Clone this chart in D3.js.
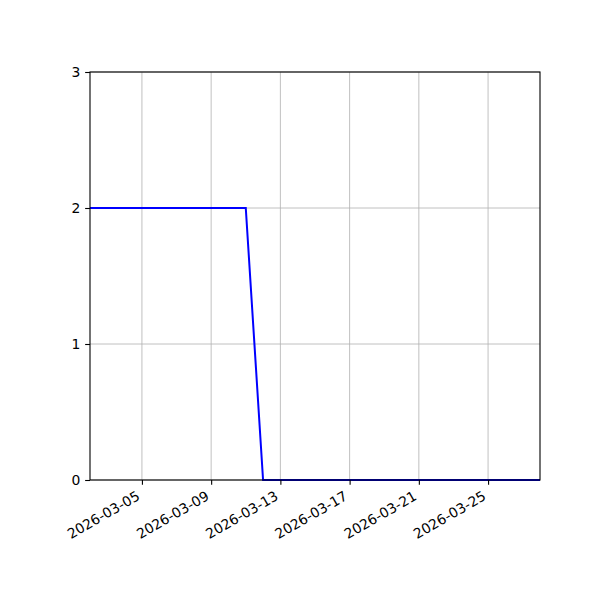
<!DOCTYPE html>
<html>
<head>
<meta charset="utf-8">
<script src="https://cdn.jsdelivr.net/npm/d3@7"></script>
<style>
  body { margin: 0; background: #fff; }
  text { font-family: "DejaVu Sans", sans-serif; }
</style>
</head>
<body>
<script>
// Daily values
const dates = [
  '2026-03-02', '2026-03-03', '2026-03-04', '2026-03-05', '2026-03-06',
  '2026-03-07', '2026-03-08', '2026-03-09', '2026-03-10', '2026-03-11',
  '2026-03-12', '2026-03-13', '2026-03-14', '2026-03-15', '2026-03-16',
  '2026-03-17', '2026-03-18', '2026-03-19', '2026-03-20', '2026-03-21',
  '2026-03-22', '2026-03-23', '2026-03-24', '2026-03-25', '2026-03-26',
  '2026-03-27', '2026-03-28'
];
const values = [2, 2, 2, 2, 2, 2, 2, 2, 2, 2,
                0, 0, 0, 0, 0, 0, 0, 0, 0, 0, 0, 0, 0, 0, 0, 0, 0];
const xTicks = ['2026-03-05', '2026-03-09', '2026-03-13', '2026-03-17', '2026-03-21', '2026-03-25'];
const yTicks = [0, 1, 2, 3];

const width = 600;
const height = 600;
const margin = { top: 72, right: 60, bottom: 120, left: 90 };
const innerWidth = width - margin.left - margin.right;
const innerHeight = height - margin.top - margin.bottom;
const fontSize = 13.9;
const tick = 4.86;

const parse = d3.utcParse('%Y-%m-%d');
const fmt = d3.utcFormat('%Y-%m-%d');
const data = dates.map((d, i) => ({ date: parse(d), value: values[i] }));

const svg = d3.select('body')
  .append('svg')
  .attr('width', width)
  .attr('height', height);

const g = svg.append('g')
  .attr('transform', `translate(${margin.left},${margin.top})`);

const xScale = d3.scaleUtc()
  .domain(d3.extent(data, d => d.date))
  .range([0, innerWidth]);

const yScale = d3.scaleLinear()
  .domain([0, 3])
  .range([innerHeight, 0]);

// Grid
g.append('g')
  .selectAll('line')
  .data(xTicks.map(parse))
  .enter()
  .append('line')
  .attr('x1', d => xScale(d))
  .attr('x2', d => xScale(d))
  .attr('y1', 0)
  .attr('y2', innerHeight)
  .attr('stroke', '#b0b0b0')
  .attr('stroke-width', 0.8);

g.append('g')
  .selectAll('line')
  .data(yTicks)
  .enter()
  .append('line')
  .attr('x1', 0)
  .attr('x2', innerWidth)
  .attr('y1', d => yScale(d))
  .attr('y2', d => yScale(d))
  .attr('stroke', '#b0b0b0')
  .attr('stroke-width', 0.8);

// Line
const line = d3.line()
  .x(d => xScale(d.date))
  .y(d => yScale(d.value));

g.append('path')
  .datum(data)
  .attr('fill', 'none')
  .attr('stroke', '#0000ff')
  .attr('stroke-width', 2)
  .attr('d', line);

// Axes
const xAxis = d3.axisBottom(xScale)
  .tickValues(xTicks.map(parse))
  .tickFormat(fmt)
  .tickSize(tick)
  .tickPadding(tick);

const yAxis = d3.axisLeft(yScale)
  .tickValues(yTicks)
  .tickFormat(d3.format('d'))
  .tickSize(tick)
  .tickPadding(tick);

const gx = g.append('g')
  .attr('transform', `translate(0,${innerHeight})`)
  .call(xAxis);

// rotated labels, right end under the tick (like autofmt_xdate)
gx.selectAll('.tick text')
  .attr('font-size', fontSize)
  .attr('fill', '#000')
  .attr('text-anchor', 'end')
  .attr('dy', null)
  .attr('x', 0)
  .attr('y', 0)
  .attr('transform', `translate(-1.6,${2 * tick + 9.2}) rotate(-30)`);

const gy = g.append('g')
  .call(yAxis);

gy.selectAll('text')
  .attr('font-size', fontSize)
  .attr('fill', '#000');

[gx, gy].forEach(a => {
  a.select('.domain').remove();
  a.selectAll('.tick line').attr('stroke', '#000').attr('stroke-width', 1.1);
  a.attr('font-family', '"DejaVu Sans", sans-serif');
});

// Frame
g.append('rect')
  .attr('width', innerWidth)
  .attr('height', innerHeight)
  .attr('fill', 'none')
  .attr('stroke', '#000')
  .attr('stroke-width', 1.1);
</script>
</body>
</html>
